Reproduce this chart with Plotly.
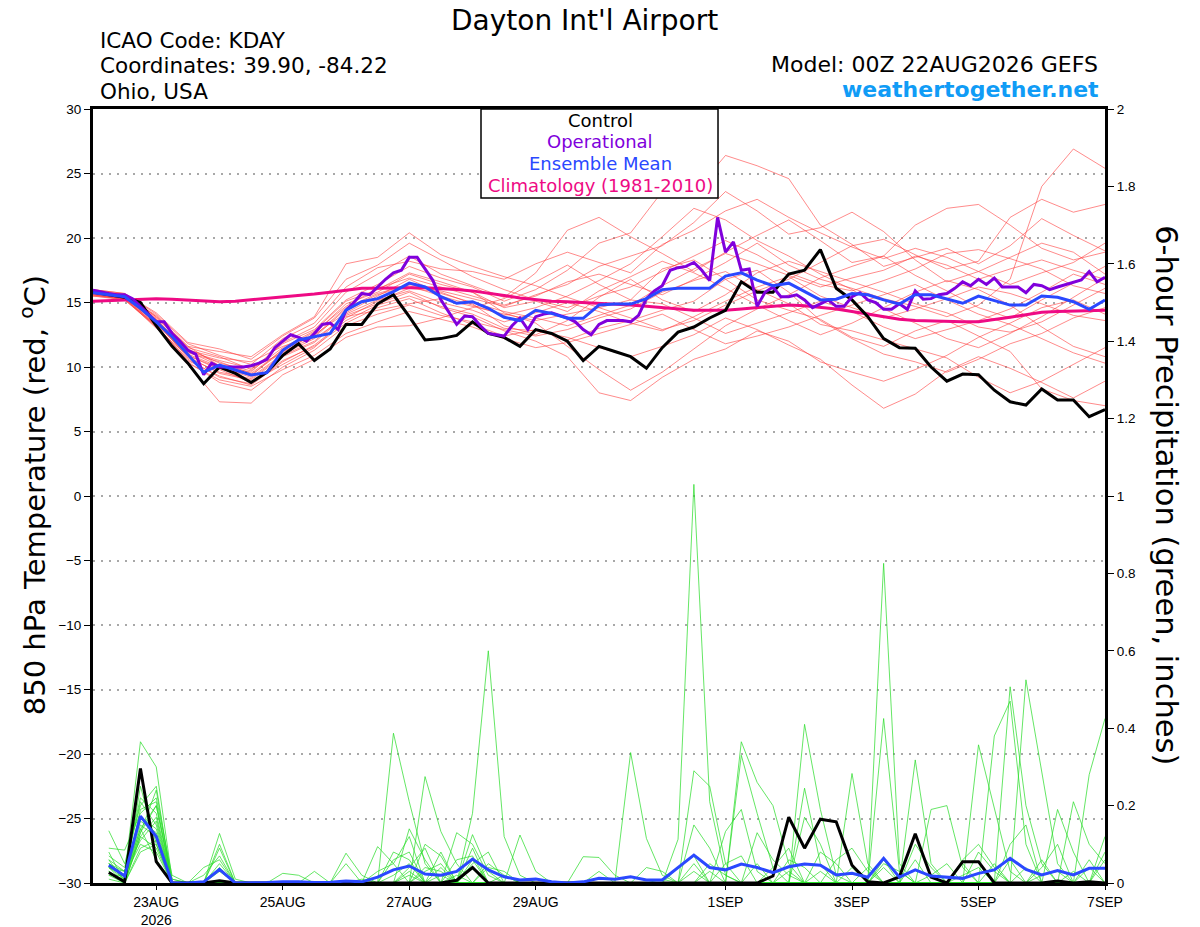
#!/usr/bin/env python3
"""
GEFS plume for Dayton Int'l Airport: 850 hPa temperature and 6-hour precipitation.
"""

import pandas as pd
import plotly.graph_objects as go
from plotly.subplots import make_subplots

RUN_START = "2026-08-22 00:00"

# 850 hPa temperature (C), 6-hourly from the run start
control_temp = [15.8, 15.6, 15.4, 15.0, 13.2, 11.6, 10.3, 8.7, 10.0, 9.5, 8.8, 9.6, 10.9, 11.8, 10.5, 11.4,
                13.3, 13.3, 14.9, 15.6, 13.9, 12.1, 12.2, 12.45, 13.5, 12.6, 12.3, 11.6, 12.9, 12.6, 12.0, 10.5,
                11.6, 11.2, 10.8, 9.9, 11.5, 12.7, 13.1, 13.8, 14.4, 16.6, 15.8, 15.8, 17.2, 17.5, 19.1, 16.1,
                15.2, 13.9, 12.2, 11.5, 11.45, 10.0, 8.9, 9.45, 9.4, 8.2, 7.3, 7.05, 8.3, 7.45, 7.45, 6.15, 6.7]

mean_temp = [15.76, 15.6, 15.45, 14.55, 13.5, 12.35, 11.0, 9.6, 10.15, 9.77, 9.38, 9.56, 11.3, 12.1, 12.35, 12.6,
             14.4, 15.06, 15.3, 15.84, 16.5, 16.2, 15.45, 14.94, 15.06, 14.55, 13.85, 13.6, 14.4, 14.16, 13.77, 13.77,
             14.8, 14.88, 14.88, 15.3, 16.0, 16.1, 16.1, 16.1, 17.05, 17.3, 16.74, 16.3, 16.5, 15.84, 15.2, 15.25,
             15.7, 15.6, 15.2, 14.88, 15.6, 15.6, 15.25, 14.94, 15.5, 15.14, 14.8, 14.8, 15.5, 15.4, 15.06, 14.47, 15.2]

climo_temp = [15.1, 15.15, 15.2, 15.25, 15.3, 15.25, 15.2, 15.1, 15.05, 15.1, 15.2, 15.3, 15.4, 15.5, 15.65, 15.8,
              15.95, 16.1, 16.1, 16.15, 16.15, 16.15, 16.1, 16.0, 15.9, 15.75, 15.55, 15.35, 15.2, 15.1, 15.05, 15.0,
              14.95, 14.9, 14.8, 14.7, 14.6, 14.5, 14.4, 14.4, 14.4, 14.5, 14.6, 14.75, 14.8, 14.75, 14.65, 14.5,
              14.3, 14.1, 13.9, 13.7, 13.6, 13.55, 13.5, 13.5, 13.5, 13.65, 13.85, 14.05, 14.25, 14.3, 14.35, 14.35, 14.4]

# operational run comes in 3-hourly
oper_temp = [15.96, 15.8, 15.7, 15.6, 15.6, 15.3, 14.7, 14.1, 13.5, 13.5, 12.6, 12.0, 11.3, 11.0, 9.4, 10.3,
             10.0, 10.0, 10.0, 10.0, 10.1, 10.3, 10.6, 11.5, 12.0, 12.5, 12.3, 12.0, 12.6, 13.3, 13.4, 12.9,
             14.4, 15.0, 15.7, 15.6, 16.2, 16.8, 17.3, 17.5, 18.5, 18.5, 17.6, 16.7, 15.2, 14.2, 13.3, 13.95,
             13.9, 13.2, 12.6, 12.5, 12.4, 13.2, 13.8, 12.9, 13.9, 14.1, 14.2, 14.0, 13.8, 13.5, 12.9, 12.5,
             13.3, 13.6, 13.6, 13.6, 13.5, 14.0, 15.3, 15.9, 16.3, 17.5, 17.7, 17.8, 18.1, 17.5, 16.7, 21.6,
             18.9, 19.7, 17.5, 17.6, 14.7, 15.8, 16.2, 15.45, 15.45, 15.6, 15.2, 14.6, 14.9, 15.2, 14.7, 14.7,
             15.45, 15.76, 15.2, 15.0, 14.47, 14.47, 14.9, 14.47, 15.9, 15.25, 15.3, 15.6, 15.7, 16.1, 16.6, 16.3,
             16.8, 16.4, 16.9, 16.2, 16.2, 16.2, 15.76, 16.4, 16.3, 16.0, 16.2, 16.4, 16.55, 16.75, 17.4, 16.6, 16.95]

# ensemble members, 12-hourly
temp_members = [
    [15.9, 15.6, 13.8, 11.5, 10.8, 9.8, 11.8, 12.9, 15.2, 16.4, 17.8, 16.9, 16.2, 15.1, 16.0, 17.5, 19.6, 20.4, 23.6, 23.5, 26.4, 25.6, 24.6, 21.0, 19.5, 17.8, 18.5, 19.2, 18.0, 19.4, 21.5, 20.2, 19.0],
    [15.7, 15.4, 13.2, 10.6, 9.2, 8.7, 10.5, 11.6, 13.4, 14.6, 15.3, 14.2, 13.3, 12.4, 12.9, 12.1, 13.0, 13.6, 14.4, 15.1, 16.8, 17.5, 15.8, 13.6, 12.2, 11.0, 10.4, 9.6, 10.6, 11.8, 12.6, 13.8, 14.6],
    [16.0, 15.7, 14.2, 11.9, 11.4, 10.6, 12.4, 13.8, 16.8, 17.9, 19.6, 18.3, 17.0, 16.0, 15.2, 14.6, 15.5, 16.2, 17.4, 18.6, 19.8, 18.7, 17.3, 16.4, 15.9, 16.7, 17.6, 18.8, 19.1, 18.4, 17.6, 16.3, 15.7],
    [15.5, 15.2, 13.1, 10.2, 7.3, 7.2, 9.4, 10.6, 12.3, 13.1, 13.2, 13.8, 14.6, 15.3, 16.6, 17.9, 16.4, 15.2, 17.6, 18.3, 16.8, 15.2, 14.4, 13.7, 12.3, 11.6, 12.8, 13.6, 12.4, 11.2, 8.3, 7.4, 7.0],
    [15.8, 15.5, 13.6, 11.2, 10.5, 9.9, 11.1, 12.6, 14.9, 15.8, 17.2, 16.4, 15.8, 14.2, 13.4, 11.6, 9.8, 8.2, 9.6, 11.4, 13.2, 14.5, 15.6, 16.9, 17.8, 18.6, 17.1, 15.9, 14.6, 13.8, 15.2, 16.5, 17.8],
    [15.6, 15.3, 13.0, 10.9, 9.8, 8.8, 10.2, 11.5, 13.8, 15.1, 16.1, 15.8, 14.9, 13.2, 12.5, 13.6, 15.4, 16.8, 15.2, 14.3, 15.6, 17.3, 18.2, 17.4, 16.6, 15.8, 14.9, 14.2, 13.1, 12.7, 13.5, 14.8, 16.1],
    [15.9, 15.5, 14.0, 11.6, 10.1, 9.6, 11.9, 13.1, 15.8, 17.2, 18.6, 17.2, 16.3, 15.4, 17.3, 20.6, 21.6, 20.1, 18.8, 17.4, 18.9, 20.2, 21.4, 19.8, 18.1, 18.6, 21.0, 22.3, 22.6, 21.0, 19.2, 18.3, 18.9],
    [15.7, 15.4, 13.4, 10.8, 9.5, 9.0, 10.8, 11.9, 14.0, 14.9, 15.8, 14.6, 13.9, 12.8, 12.0, 10.8, 8.0, 7.4, 9.2, 10.6, 11.4, 12.8, 12.0, 10.4, 9.6, 8.9, 9.8, 10.9, 12.3, 13.4, 14.6, 15.2, 14.1],
    [15.8, 15.6, 13.7, 11.3, 10.7, 10.4, 11.6, 12.4, 14.6, 15.7, 16.4, 15.9, 15.3, 14.7, 15.6, 16.4, 17.8, 18.6, 19.4, 21.2, 23.6, 22.1, 20.3, 20.8, 22.0, 20.5, 18.3, 16.6, 17.4, 18.5, 19.6, 18.9, 17.2],
    [15.6, 15.3, 13.3, 11.0, 10.0, 9.2, 11.0, 12.2, 13.9, 14.4, 14.9, 15.3, 14.7, 14.1, 13.6, 14.1, 14.6, 15.2, 14.9, 13.8, 12.6, 13.4, 14.2, 15.1, 14.3, 13.1, 12.2, 12.9, 13.6, 14.5, 15.8, 17.2, 16.4],
    [15.9, 15.6, 13.9, 11.4, 10.3, 9.7, 11.5, 12.8, 15.1, 16.0, 17.3, 16.6, 15.8, 14.6, 15.1, 14.3, 15.9, 17.0, 18.2, 17.3, 16.1, 14.8, 13.6, 12.5, 13.4, 14.6, 15.8, 16.7, 16.0, 14.8, 13.1, 11.6, 10.8],
    [15.6, 15.2, 13.2, 10.4, 8.8, 8.2, 10.0, 11.3, 13.2, 14.1, 14.8, 14.0, 13.5, 12.9, 12.4, 12.9, 13.8, 14.5, 15.8, 16.7, 17.4, 16.0, 14.9, 13.3, 12.8, 12.1, 11.4, 10.7, 9.2, 8.0, 8.9, 10.2, 11.5],
    [15.8, 15.5, 13.6, 11.1, 10.4, 9.5, 11.3, 12.5, 14.2, 15.5, 16.8, 15.7, 15.0, 14.3, 13.8, 13.2, 14.0, 14.8, 16.3, 17.6, 18.8, 18.0, 17.1, 16.2, 16.9, 17.5, 18.6, 17.9, 16.8, 17.6, 18.3, 17.5, 16.8],
    [15.7, 15.4, 13.5, 10.7, 9.6, 9.1, 10.9, 12.0, 14.1, 15.2, 15.9, 15.0, 14.4, 13.5, 14.2, 15.0, 14.3, 13.4, 12.8, 13.9, 15.1, 16.2, 17.0, 15.5, 14.6, 13.8, 14.5, 15.3, 16.2, 15.7, 14.9, 14.0, 13.6],
    [16.0, 15.7, 14.1, 11.8, 10.9, 10.2, 12.2, 13.4, 16.2, 17.7, 18.2, 17.6, 17.4, 16.8, 18.0, 18.9, 18.1, 17.3, 19.5, 20.6, 22.1, 23.0, 21.6, 20.4, 19.3, 18.4, 19.2, 18.5, 17.4, 16.4, 17.3, 18.1, 19.6],
    [15.5, 15.3, 13.1, 10.3, 9.0, 8.5, 9.8, 10.9, 12.6, 13.5, 14.3, 13.7, 13.1, 12.2, 11.5, 11.9, 12.6, 13.3, 14.1, 12.9, 11.8, 12.4, 13.1, 14.0, 14.8, 15.6, 16.4, 15.2, 14.1, 13.3, 12.2, 11.1, 10.3],
    [15.8, 15.5, 13.7, 11.2, 10.1, 9.3, 11.4, 12.7, 14.7, 16.1, 16.9, 16.2, 15.5, 14.8, 15.5, 16.6, 17.2, 16.4, 15.6, 16.8, 18.1, 19.6, 17.9, 16.8, 16.1, 15.3, 14.7, 13.9, 14.8, 16.8, 24.0, 26.9, 25.4],
    [15.7, 15.4, 13.4, 10.9, 9.9, 9.4, 11.2, 12.3, 14.5, 15.6, 16.3, 15.5, 14.8, 14.0, 14.6, 15.5, 16.7, 18.0, 20.1, 22.3, 21.4, 19.8, 18.6, 17.2, 16.0, 14.5, 13.4, 12.2, 11.5, 12.6, 13.9, 15.4, 16.9],
    [15.9, 15.6, 13.9, 11.6, 11.2, 10.8, 12.5, 13.9, 18.0, 18.5, 20.4, 18.7, 17.8, 17.0, 16.3, 15.4, 14.6, 13.8, 12.9, 13.6, 14.8, 15.9, 16.8, 18.1, 19.4, 19.9, 18.7, 17.6, 18.2, 21.6, 23.0, 22.0, 22.6],
    [15.6, 15.3, 13.2, 10.5, 9.3, 8.6, 10.4, 11.7, 13.6, 14.8, 15.5, 14.7, 14.1, 13.0, 12.8, 12.3, 11.5, 10.8, 11.6, 12.5, 13.8, 12.9, 11.7, 10.6, 8.6, 6.8, 7.9, 9.7, 10.8, 9.9, 8.8, 7.6, 8.9],
]

# 6-hour precipitation (inches), steps 1..64 (06Z 22AUG onward)
control_pcp = [0.027, 0.003, 0.296, 0.055, 0, 0, 0, 0.006, 0, 0, 0, 0, 0, 0, 0, 0,
               0, 0, 0, 0, 0, 0, 0.007, 0.04, 0, 0, 0, 0, 0, 0, 0, 0,
               0, 0, 0, 0, 0, 0, 0, 0, 0, 0, 0.018, 0.17, 0.09, 0.165, 0.158, 0.046,
               0.003, 0, 0.016, 0.127, 0.015, 0, 0.055, 0.055, 0, 0, 0, 0, 0.005, 0, 0.003, 0]

mean_pcp = [0.046, 0.018, 0.173, 0.12, 0, 0, 0.003, 0.035, 0, 0, 0.001, 0.003, 0.003, 0.001, 0.002, 0.005,
            0.003, 0.015, 0.034, 0.044, 0.023, 0.02, 0.03, 0.062, 0.034, 0.016, 0.008, 0.01, 0.003, 0, 0.003, 0.012,
            0.01, 0.016, 0.008, 0.008, 0.04, 0.072, 0.04, 0.034, 0.049, 0.04, 0.027, 0.042, 0.049, 0.046, 0.021, 0.025,
            0.015, 0.064, 0.015, 0.034, 0.018, 0.015, 0.012, 0.025, 0.034, 0.064, 0.035, 0.021, 0.032, 0.021, 0.038, 0.038]

# members: (step, inches) for the steps that had rain, zero elsewhere
pcp_members = [
    [(1, .05), (2, .02), (3, .365), (4, .3), (5, .01), (19, .387), (20, .21), (21, .05), (38, .29), (39, .25), (40, .05), (45, .41), (46, .19), (47, .02), (58, .507), (59, .2), (60, .05)],
    [(1, .135), (2, .05), (3, .2), (4, .25), (8, .128), (9, .01), (24, .18), (25, .6), (26, .12), (27, .02), (41, .365), (42, .26), (43, .2), (44, .05), (50, .06), (52, .318), (53, .05), (63, .28), (64, .425)],
    [(1, .09), (2, .085), (3, .18), (4, .22), (5, .02), (8, .1), (21, .275), (22, .133), (23, .05), (37, .113), (38, 1.03), (39, .21), (40, .02), (56, .357), (57, .19), (58, .03)],
    [(1, .04), (2, .01), (3, .13), (4, .2), (16, .077), (17, .02), (20, .14), (21, .06), (24, .125), (25, .03), (34, .337), (35, .115), (36, .02), (48, .283), (49, .05), (59, .525), (60, .288), (61, .05)],
    [(1, .06), (2, .03), (3, .11), (4, .16), (8, .09), (18, .094), (19, .05), (20, .12), (23, .13), (24, .1), (25, .02), (50, .826), (51, .05), (57, .38), (58, .47), (59, .1)],
    [(1, .03), (3, .25), (4, .1), (7, .04), (8, .06), (22, .02), (24, .06), (27, .124), (28, .03), (41, .33), (42, .18), (43, .04), (55, .05), (62, .21), (63, .1), (64, .05)],
    [(1, .05), (2, .02), (3, .15), (4, .12), (12, .025), (13, .02), (19, .06), (20, .08), (31, .068), (32, .066), (33, .02), (45, .245), (46, .05), (53, .19), (54, .2), (55, .04)],
    [(1, .07), (2, .04), (3, .22), (4, .18), (8, .05), (16, .05), (21, .1), (22, .07), (38, .15), (39, .09), (45, .17), (46, .1), (61, .19), (62, .08)],
    [(1, .02), (3, .17), (4, .14), (14, .03), (20, .04), (21, .09), (24, .05), (25, .08), (42, .13), (43, .06), (44, .02), (50, .425), (51, .03), (60, .04), (61, .1)],
    [(1, .04), (2, .02), (3, .14), (4, .2), (5, .01), (8, .04), (19, .08), (20, .06), (22, .04), (40, .133), (41, .19), (42, .03), (52, .1), (53, .04), (56, .08), (57, .03)],
    [(1, .03), (3, .19), (4, .21), (25, .05), (26, .02), (35, .04), (36, .03), (39, .05), (40, .02), (47, .06), (48, .09), (49, .03), (64, .12)],
    [(1, .05), (2, .03), (3, .16), (4, .13), (18, .03), (19, .05), (21, .04), (22, .03), (44, .06), (45, .04), (55, .06), (56, .1), (57, .04)],
    [(1, .08), (3, .12), (4, .17), (8, .03), (23, .06), (24, .07), (32, .03), (38, .05), (46, .08), (47, .05), (58, .1), (59, .15), (63, .06)],
    [(1, .04), (2, .03), (3, .21), (4, .15), (20, .03), (22, .08), (36, .01), (43, .04), (44, .09), (50, .05), (51, .03), (60, .06), (62, .03)],
    [(1, .06), (3, .13), (4, .24), (7, .02), (8, .07), (17, .01), (25, .04), (26, .03), (40, .05), (41, .07), (49, .04), (53, .02), (54, .05), (64, .08)],
    [(1, .02), (2, .02), (3, .1), (4, .08), (19, .02), (20, .05), (24, .09), (37, .04), (38, .07), (48, .04), (52, .06), (57, .05), (63, .04)],
    [(1, .03), (3, .09), (4, .11), (21, .03), (22, .05), (39, .03), (42, .05), (55, .02), (56, .04)],
    [(1, .05), (2, .01), (3, .14), (4, .06), (20, .02), (24, .04), (46, .03), (60, .02), (61, .03), (64, .06)],
    [(1, .01), (3, .08), (4, .1), (26, .02), (44, .03), (59, .04)],
    [(1, .04), (3, .12), (4, .09), (23, .02), (38, .03), (50, .04), (58, .06)],
]

tick_dates = ["2026-08-23", "2026-08-25", "2026-08-27", "2026-08-29",
              "2026-09-01", "2026-09-03", "2026-09-05", "2026-09-07"]
tick_labels = ["23AUG<br>2026", "25AUG", "27AUG", "29AUG", "1SEP", "3SEP", "5SEP", "7SEP"]

TICK_FONT = "Liberation Sans, Arial, Helvetica, sans-serif"
TEXT_FONT = "DejaVu Sans, Liberation Sans, sans-serif"

times_6h = pd.date_range(RUN_START, periods=len(control_temp), freq="6h")
times_3h = pd.date_range(RUN_START, periods=len(oper_temp), freq="3h")
times_12h = pd.date_range(RUN_START, periods=len(temp_members[0]), freq="12h")
pcp_times = times_6h[1:]

fig = make_subplots(specs=[[{"secondary_y": True}]])

# Thin member lines first
for member in temp_members:
    fig.add_trace(go.Scatter(x=times_12h, y=member, mode="lines",
                             line=dict(color="rgba(255,60,60,0.75)", width=0.8),
                             showlegend=False, hoverinfo="skip"), secondary_y=False)

for pairs in pcp_members:
    vals = [0.0] * len(pcp_times)
    for step, amount in pairs:
        vals[step - 1] = amount
    fig.add_trace(go.Scatter(x=pcp_times, y=vals, mode="lines",
                             line=dict(color="rgba(40,220,40,0.9)", width=0.8),
                             showlegend=False, hoverinfo="skip"), secondary_y=True)

# Bold summary lines
fig.add_trace(go.Scatter(x=times_6h, y=climo_temp, mode="lines", name="Climatology",
                         line=dict(color="#ee0a84", width=3)), secondary_y=False)
fig.add_trace(go.Scatter(x=times_6h, y=control_temp, mode="lines", name="Control",
                         line=dict(color="black", width=3)), secondary_y=False)
fig.add_trace(go.Scatter(x=times_3h, y=oper_temp, mode="lines", name="Operational",
                         line=dict(color="#8000dc", width=3)), secondary_y=False)
fig.add_trace(go.Scatter(x=times_6h, y=mean_temp, mode="lines", name="Ensemble Mean",
                         line=dict(color="#2a48ff", width=3)), secondary_y=False)

fig.add_trace(go.Scatter(x=pcp_times, y=control_pcp, mode="lines", showlegend=False,
                         line=dict(color="black", width=3)), secondary_y=True)
fig.add_trace(go.Scatter(x=pcp_times, y=mean_pcp, mode="lines", showlegend=False,
                         line=dict(color="#2a48ff", width=3)), secondary_y=True)

fig.update_xaxes(
    type="date", range=[times_6h[0], times_6h[-1]], domain=[0, 1],
    tickvals=pd.to_datetime(tick_dates), ticktext=tick_labels,
    ticks="outside", ticklen=4, tickwidth=1, tickcolor="black",
    showline=True, linewidth=3, linecolor="black", mirror=True,
    showgrid=False, zeroline=False, automargin=False,
    tickfont=dict(family=TICK_FONT, size=14, color="black"),
)
fig.update_yaxes(
    range=[-30, 30], dtick=5, tick0=-30,
    ticks="outside", ticklen=6, tickwidth=1, tickcolor="black",
    showline=True, linewidth=3, linecolor="black",
    showgrid=True, gridcolor="#a8a8a8", gridwidth=1.5, griddash="2px,6px", zeroline=False,
    automargin=False,
    tickfont=dict(family=TICK_FONT, size=13.5, color="black"),
    secondary_y=False,
)
fig.update_yaxes(
    range=[0, 2], dtick=0.2, tick0=0,
    ticks="outside", ticklen=6, tickwidth=1, tickcolor="black",
    showline=True, linewidth=3, linecolor="black",
    showgrid=False, zeroline=False, automargin=False,
    tickfont=dict(family=TICK_FONT, size=13.5, color="black"),
    secondary_y=True,
)

# Legend box drawn as a framed text block at the top of the plot
fig.add_shape(type="rect", xref="paper", yref="paper", x0=0.3834, x1=0.6176, y0=0.885, y1=1.0,
              line=dict(color="black", width=1.5), fillcolor="white", layer="above")
legend_rows = [("Control", "black", 0.9845), ("Operational", "#8000dc", 0.9574),
               ("Ensemble Mean", "#2a48ff", 0.9302), ("Climatology (1981-2010)", "#ee0a84", 0.9018)]
for text, color, ypos in legend_rows:
    fig.add_annotation(x=0.501, y=ypos, xref="paper", yref="paper", text=text, showarrow=False,
                       xanchor="center", yanchor="middle", font=dict(family=TEXT_FONT, size=18, color=color))

# Header texts
fig.add_annotation(x=0.486, y=1.1137, xref="paper", yref="paper", text="Dayton Int'l Airport",
                   showarrow=False, xanchor="center", yanchor="middle", borderpad=0,
                   font=dict(family=TEXT_FONT, size=28, color="black"))
for text, ypos in [("ICAO Code: KDAY", 1.0891), ("Coordinates: 39.90, -84.22", 1.0568), ("Ohio, USA", 1.022)]:
    fig.add_annotation(x=0.005, y=ypos, xref="paper", yref="paper", text=text, showarrow=False,
                       xanchor="left", yanchor="middle", font=dict(family=TEXT_FONT, size=21.5, color="black"))
fig.add_annotation(x=0.995, y=1.0581, xref="paper", yref="paper", text="Model: 00Z 22AUG2026 GEFS",
                   showarrow=False, xanchor="right", yanchor="middle",
                   font=dict(family=TEXT_FONT, size=22, color="black"))
fig.add_annotation(x=0.996, y=1.0258, xref="paper", yref="paper", text="<b>weathertogether.net</b>",
                   showarrow=False, xanchor="right", yanchor="middle",
                   font=dict(family=TEXT_FONT, size=22, color="#109cf6"))

# Axis titles
fig.add_annotation(x=-0.0593, y=0.501, xref="paper", yref="paper",
                   text="850 hPa Temperature (red, <sup>o</sup>C)", textangle=-90, showarrow=False,
                   xanchor="center", yanchor="middle", font=dict(family=TEXT_FONT, size=29, color="black"))
fig.add_annotation(x=1.0613, y=0.501, xref="paper", yref="paper",
                   text="6-hour Precipitation (green, inches)", textangle=90, showarrow=False,
                   xanchor="center", yanchor="middle", font=dict(family=TEXT_FONT, size=30.5, color="black"))

fig.update_layout(
    width=1200, height=927,
    margin=dict(l=93, r=95, t=109, b=44, autoexpand=False),
    plot_bgcolor="white", paper_bgcolor="white",
    showlegend=False,
    font=dict(family=TICK_FONT, color="black"),
)

# drop the browser's default page margin so the figure sits at the window corner
fig.write_html("out.html", config={"displayModeBar": False},
               post_script="document.body.style.margin = '0px';")
